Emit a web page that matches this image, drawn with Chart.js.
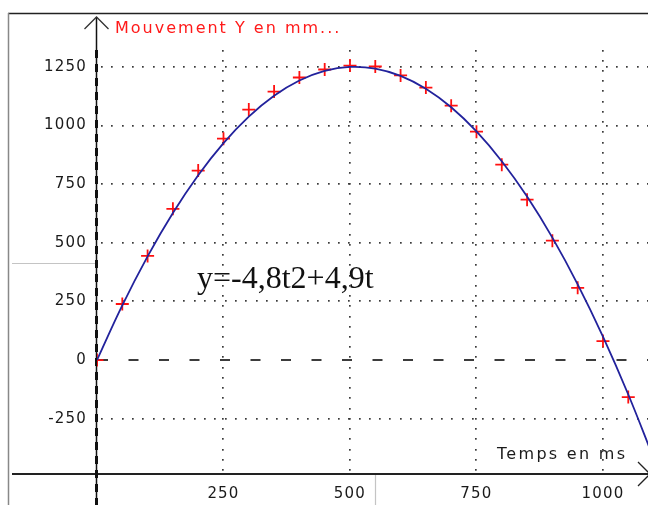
<!DOCTYPE html>
<html><head><meta charset="utf-8">
<script src="https://cdn.jsdelivr.net/npm/chart.js@4/dist/chart.umd.min.js"></script>
<style>html,body{margin:0;padding:0;background:#fff;overflow:hidden}canvas{display:block}</style>
</head><body>
<canvas id="c" width="648" height="505"></canvas>
<script>
// Measured positions (red crosses)
const timeMs = [0,50,100,150,200,250,300,350,400,450,500,550,600,650,700,750,800,850,900,950,1000,1050];
const yMeasuredMm = [0,239,444,645,808,944,1068,1145,1205,1239,1256,1252,1214,1162,1085,974,833,684,509,308,81,-158];
// Model curve (blue line)
const curveTimeMs = [0,50,100,150,200,250,300,350,400,450,500,550,600,650,700,750,800,850,900,950,1000,1050,1100];
const curveYMm = [0,233,442,627,788,925,1038,1127,1192,1233,1250,1243,1212,1157,1078,975,848,697,522,323,100,-147,-418];
// Tick labels
const xTickValues = [250,500,750,1000];
const yTickValues = [-250,0,250,500,750,1000,1250];
const yGridValues = [-250,250,500,750,1000,1250];
const yAxisTitle = 'Mouvement Y en mm...';
const xAxisTitle = 'Temps en ms';
const equationLabel = 'y=-4,8t2+4,9t';

function dots(ctx, x0, y0, x1, y1, step) {
  const len = Math.hypot(x1 - x0, y1 - y0);
  const n = Math.floor(len / step);
  for (let i = 0; i <= n; i++) {
    const px = x0 + (x1 - x0) * i / Math.max(n, 1);
    const py = y0 + (y1 - y0) * i / Math.max(n, 1);
    ctx.fillRect(Math.round(px) - 1, Math.round(py) - 1, 1.7, 1.7);
  }
}

const decor = {
  id: 'decor',
  beforeDraw(chart) { chart.ctx.letterSpacing = '1.2px'; },
  beforeDatasetsDraw(chart) {
    const {ctx, chartArea: a, scales: {x, y}} = chart;
    ctx.save();
    ctx.letterSpacing = '0px';
    // frame
    ctx.lineWidth = 1.5;
    ctx.strokeStyle = '#222';
    ctx.beginPath(); ctx.moveTo(8, 13.5); ctx.lineTo(648, 13.5); ctx.stroke();
    ctx.strokeStyle = '#888';
    ctx.beginPath(); ctx.moveTo(8.5, 13); ctx.lineTo(8.5, 505); ctx.stroke();
    // light gray artefacts
    ctx.strokeStyle = '#c4c4c4';
    ctx.lineWidth = 1.2;
    ctx.beginPath(); ctx.moveTo(12, 263.5); ctx.lineTo(95, 263.5); ctx.stroke();
    ctx.beginPath(); ctx.moveTo(375.5, 475); ctx.lineTo(375.5, 505); ctx.stroke();
    // dotted grid
    ctx.fillStyle = '#3a3a3a';
    const topV = y.getPixelForValue(1320);
    xTickValues.forEach(v => { const px = x.getPixelForValue(v); dots(ctx, px, topV, px, a.bottom - 4, 10.2); });
    yGridValues.forEach(v => { const py = y.getPixelForValue(v); dots(ctx, a.left + 5, py, a.right, py, 10.2); });
    // dashed zero line
    const y0 = Math.round(y.getPixelForValue(0));
    ctx.strokeStyle = '#3c3c3c';
    ctx.lineWidth = 2;
    ctx.setLineDash([10, 20.5]);
    ctx.beginPath(); ctx.moveTo(a.left + 1, y0); ctx.lineTo(a.right, y0); ctx.stroke();
    ctx.setLineDash([]);
    // x axis
    ctx.strokeStyle = '#222';
    ctx.lineWidth = 2;
    ctx.beginPath(); ctx.moveTo(12, a.bottom); ctx.lineTo(648, a.bottom); ctx.stroke();
    ctx.lineWidth = 1.3;
    ctx.beginPath(); ctx.moveTo(638, a.bottom - 12); ctx.lineTo(650, a.bottom); ctx.lineTo(638, a.bottom + 12); ctx.stroke();
    // y axis
    const ax = x.getPixelForValue(0) - 0.5;
    ctx.strokeStyle = '#111';
    ctx.lineWidth = 1.5;
    ctx.beginPath(); ctx.moveTo(ax, 17); ctx.lineTo(ax, 505); ctx.stroke();
    ctx.lineWidth = 3;
    ctx.setLineDash([8, 6]);
    ctx.beginPath(); ctx.moveTo(ax, 50); ctx.lineTo(ax, 505); ctx.stroke();
    ctx.setLineDash([]);
    ctx.lineWidth = 1.3;
    ctx.strokeStyle = '#333';
    ctx.beginPath(); ctx.moveTo(ax - 12, 29); ctx.lineTo(ax, 17); ctx.lineTo(ax + 12, 29); ctx.stroke();
    // axis titles
    ctx.textBaseline = 'middle';
    ctx.textAlign = 'left';
    ctx.letterSpacing = '2px';
    ctx.font = '16px "DejaVu Sans"';
    ctx.fillStyle = '#ff1a1a';
    ctx.fillText(yAxisTitle, 115, 29);
    ctx.letterSpacing = '2.3px';
    ctx.font = '16px "DejaVu Sans"';
    ctx.fillStyle = '#1a1a1a';
    ctx.fillText(xAxisTitle, 497, 455);
    ctx.restore();
  },
  afterDatasetsDraw(chart) {
    const ctx = chart.ctx;
    ctx.save();
    ctx.letterSpacing = '0px';
    ctx.font = '32px "Liberation Serif"';
    ctx.fillStyle = '#111';
    ctx.textAlign = 'left';
    ctx.textBaseline = 'alphabetic';
    ctx.fillText(equationLabel, 197, 288);
    ctx.restore();
  }
};

new Chart(document.getElementById('c'), {
  type: 'scatter',
  data: {
    datasets: [
      {
        label: 'modèle',
        data: curveTimeMs.map((t, i) => ({x: t, y: curveYMm[i]})),
        showLine: true,
        borderColor: '#22229c',
        borderWidth: 1.8,
        pointRadius: 0,
        tension: 0.4,
        order: 0
      },
      {
        label: 'mesures',
        data: timeMs.map((t, i) => ({x: t, y: yMeasuredMm[i]})),
        showLine: false,
        pointStyle: 'cross',
        pointRadius: 6.5,
        borderColor: '#ff1010',
        borderWidth: 1.8,
        order: 1
      }
    ]
  },
  options: {
    responsive: false,
    devicePixelRatio: 1,
    animation: false,
    layout: {autoPadding: false, padding: {top: 17, right: 0, left: 0, bottom: 0}},
    plugins: {legend: {display: false}, tooltip: {enabled: false}},
    scales: {
      x: {
        type: 'linear', min: 0, max: 1089,
        afterFit: s => { s.height = 31; s.paddingLeft = 0; s.paddingRight = 0; },
        afterBuildTicks: s => { s.ticks = xTickValues.map(v => ({value: v})); },
        grid: {display: false, drawTicks: false},
        border: {display: false},
        ticks: {font: {family: 'DejaVu Sans', size: 15}, color: '#1a1a1a', padding: 11, maxRotation: 0, autoSkip: false,
                callback: v => String(v)}
      },
      y: {
        type: 'linear', min: -486, max: 1463,
        afterFit: s => { s.width = 97; s.paddingTop = 0; s.paddingBottom = 0; },
        afterBuildTicks: s => { s.ticks = yTickValues.map(v => ({value: v})); },
        grid: {display: false, drawTicks: false},
        border: {display: false},
        ticks: {font: {family: 'DejaVu Sans', size: 15}, color: '#1a1a1a', padding: 10, autoSkip: false,
                callback: v => String(v)}
      }
    }
  },
  plugins: [decor]
});
</script>
</body></html>
